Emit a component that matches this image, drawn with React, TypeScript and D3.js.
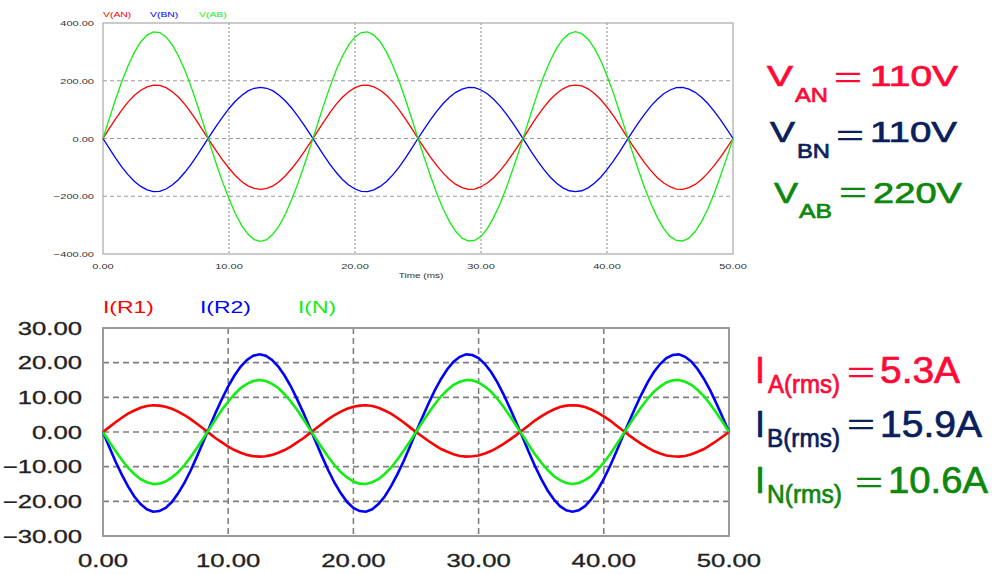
import React from 'react';
import * as d3 from 'd3';

// time axis (ms), sampled every 0.5 ms
const timeMs = [
  0, 0.5, 1, 1.5, 2, 2.5, 3, 3.5, 4, 4.5, 5, 5.5, 6, 6.5, 7, 7.5, 8, 8.5, 9, 9.5,
  10, 10.5, 11, 11.5, 12, 12.5, 13, 13.5, 14, 14.5, 15, 15.5, 16, 16.5, 17, 17.5, 18, 18.5, 19, 19.5,
  20, 20.5, 21, 21.5, 22, 22.5, 23, 23.5, 24, 24.5, 25, 25.5, 26, 26.5, 27, 27.5, 28, 28.5, 29, 29.5,
  30, 30.5, 31, 31.5, 32, 32.5, 33, 33.5, 34, 34.5, 35, 35.5, 36, 36.5, 37, 37.5, 38, 38.5, 39, 39.5,
  40, 40.5, 41, 41.5, 42, 42.5, 43, 43.5, 44, 44.5, 45, 45.5, 46, 46.5, 47, 47.5, 48, 48.5, 49, 49.5, 50,
];

// Top chart: voltages (V)
const vAN = [
  0, 35, 68, 99, 127, 150, 167, 179, 185, 184, 176, 162, 143, 118, 89, 57, 23, -11, -44, -75,
  -103, -128, -149, -164, -173, -176, -173, -164, -149, -128, -103, -75, -44, -11, 23, 57, 89, 118, 143, 162,
  176, 184, 185, 179, 167, 150, 127, 99, 68, 35, 0, -33, -65, -94, -120, -142, -159, -170, -176, -175,
  -167, -154, -136, -112, -85, -54, -22, 12, 46, 79, 109, 135, 156, 172, 182, 185, 182, 172, 156, 135,
  109, 79, 46, 12, -22, -54, -85, -112, -136, -154, -167, -175, -176, -170, -159, -142, -120, -94, -65, -33, 0,
];
const vBN = [
  0, -34, -68, -99, -126, -149, -166, -178, -184, -183, -175, -161, -142, -117, -89, -57, -23, 11, 44, 75,
  104, 129, 149, 165, 174, 177, 174, 165, 149, 129, 104, 75, 44, 11, -23, -57, -89, -117, -142, -161,
  -175, -183, -184, -178, -166, -149, -126, -99, -68, -34, 0, 33, 65, 95, 121, 143, 160, 171, 177, 176,
  168, 155, 136, 113, 85, 55, 22, -12, -46, -78, -108, -134, -155, -171, -181, -184, -181, -171, -155, -134,
  -108, -78, -46, -12, 22, 55, 85, 113, 136, 155, 168, 176, 177, 171, 160, 143, 121, 95, 65, 33, 0,
];
const vAB = [
  0, 69, 136, 198, 253, 299, 335, 358, 369, 367, 352, 324, 285, 236, 178, 114, 46, -22, -89, -152,
  -209, -260, -301, -331, -350, -356, -350, -331, -301, -260, -209, -152, -89, -22, 46, 114, 178, 236, 285, 324,
  352, 367, 369, 358, 335, 299, 253, 198, 136, 69, 0, -67, -131, -191, -244, -288, -322, -345, -355, -353,
  -339, -312, -274, -227, -172, -110, -45, 23, 92, 158, 217, 270, 312, 344, 363, 370, 363, 344, 312, 270,
  217, 158, 92, 23, -45, -110, -172, -227, -274, -312, -339, -353, -355, -345, -322, -288, -244, -191, -131, -67, 0,
];

// Bottom chart: currents (A)
const iR1 = [
  0, 1.4, 2.8, 4.1, 5.3, 6.2, 7.0, 7.5, 7.7, 7.6, 7.3, 6.7, 5.9, 4.9, 3.7, 2.4, 1.0, -0.4, -1.8, -3.0,
  -4.2, -5.2, -6.0, -6.6, -7.0, -7.1, -7.0, -6.6, -6.0, -5.2, -4.2, -3.0, -1.8, -0.4, 1.0, 2.4, 3.7, 4.9, 5.9, 6.7,
  7.3, 7.6, 7.7, 7.5, 7.0, 6.2, 5.3, 4.1, 2.8, 1.4, 0, -1.3, -2.6, -3.8, -4.9, -5.7, -6.4, -6.9, -7.1, -7.0,
  -6.8, -6.2, -5.5, -4.5, -3.4, -2.2, -0.9, 0.5, 1.9, 3.3, 4.5, 5.6, 6.5, 7.2, 7.6, 7.7, 7.6, 7.2, 6.5, 5.6,
  4.5, 3.3, 1.9, 0.5, -0.9, -2.2, -3.4, -4.5, -5.5, -6.2, -6.8, -7.0, -7.1, -6.9, -6.4, -5.7, -4.9, -3.8, -2.6, -1.3, 0,
];
const iR2 = [
  0, -4.3, -8.5, -12.3, -15.7, -18.6, -20.8, -22.3, -23.0, -22.8, -21.9, -20.2, -17.7, -14.7, -11.1, -7.1, -2.9, 1.4, 5.6, 9.5,
  13.2, 16.3, 18.9, 20.8, 22.0, 22.4, 22.0, 20.8, 18.9, 16.3, 13.2, 9.5, 5.6, 1.4, -2.9, -7.1, -11.1, -14.7, -17.7, -20.2,
  -21.9, -22.8, -23.0, -22.3, -20.8, -18.6, -15.7, -12.3, -8.5, -4.3, 0, 4.2, 8.2, 12.0, 15.3, 18.1, 20.3, 21.7, 22.4, 22.2,
  21.3, 19.6, 17.3, 14.3, 10.8, 6.9, 2.8, -1.4, -5.7, -9.8, -13.5, -16.8, -19.4, -21.4, -22.6, -23.0, -22.6, -21.4, -19.4, -16.8,
  -13.5, -9.8, -5.7, -1.4, 2.8, 6.9, 10.8, 14.3, 17.3, 19.6, 21.3, 22.2, 22.4, 21.7, 20.3, 18.1, 15.3, 12.0, 8.2, 4.2, 0,
];
const iN = [
  0, -2.8, -5.5, -8.0, -10.3, -12.1, -13.6, -14.5, -15.0, -14.9, -14.3, -13.1, -11.6, -9.6, -7.2, -4.6, -1.9, 0.9, 3.7, 6.4,
  8.8, 10.9, 12.7, 13.9, 14.7, 15.0, 14.7, 13.9, 12.7, 10.9, 8.8, 6.4, 3.7, 0.9, -1.9, -4.6, -7.2, -9.6, -11.6, -13.1,
  -14.3, -14.9, -15.0, -14.5, -13.6, -12.1, -10.3, -8.0, -5.5, -2.8, 0, 2.8, 5.5, 8.0, 10.3, 12.1, 13.6, 14.5, 15.0, 14.9,
  14.3, 13.1, 11.6, 9.6, 7.2, 4.6, 1.9, -0.9, -3.7, -6.4, -8.8, -10.9, -12.7, -13.9, -14.7, -15.0, -14.7, -13.9, -12.7, -10.9,
  -8.8, -6.4, -3.7, -0.9, 1.9, 4.6, 7.2, 9.6, 11.6, 13.1, 14.3, 14.9, 15.0, 14.5, 13.6, 12.1, 10.3, 8.0, 5.5, 2.8, 0,
];

const topYTicks = [400, 200, 0, -200, -400];
const topXTicks = [0, 10, 20, 30, 40, 50];
const botYTicks = [30, 20, 10, 0, -10, -20, -30];
const botXTicks = [0, 10, 20, 30, 40, 50];
const topLegend = ['V(AN)', 'V(BN)', 'V(AB)'];
const botLegend = ['I(R1)', 'I(R2)', 'I(N)'];

const RED = '#ff0000';
const BLUE = '#0000ff';
const GREEN = '#11ee11';
const FONT = '"Liberation Sans", Arial, sans-serif';
const fmt = d3.format('.2f');

type STProps = { x: number; y: number; sx?: number; size: number; fill: string; anchor?: string; sw?: number; children: any };
const ST = ({ x, y, sx = 1, size, fill, anchor = 'start', sw = 0, children }: STProps) => (
  <text transform={`translate(${x},${y}) scale(${sx},1)`} fontSize={size} fill={fill} textAnchor={anchor as any} fontFamily={FONT}
    stroke={sw ? fill : 'none'} strokeWidth={sw}>
    {children}
  </text>
);

type LT = { x: number; y: number; w?: number; size: number; fill: string; text: string };
const LenText = ({ x, y, w, size, fill, text }: LT) => (
  <text x={x} y={y} fontSize={size} fill={fill} fontFamily={FONT} textLength={w} lengthAdjust="spacingAndGlyphs"
    stroke={fill} strokeWidth={0.7}>
    {text}
  </text>
);

const Eq = ({ cx, cy, fill }: { cx: number; cy: number; fill: string }) => (
  <text x={cx} y={cy + 12} fontSize={33} fill={fill} textAnchor="middle" fontFamily='"Noto Sans CJK SC", sans-serif'>＝</text>
);

export default function App() {
  const tx = d3.scaleLinear().domain([0, 50]).range([103, 733]);
  const ty = d3.scaleLinear().domain([-400, 400]).range([254, 23]);
  const bx = d3.scaleLinear().domain([0, 50]).range([103, 729]);
  const by = d3.scaleLinear().domain([-30, 30]).range([536, 328]);

  const mk = (xs: d3.ScaleLinear<number, number>, ys: d3.ScaleLinear<number, number>, vals: number[]) =>
    d3.line<number>().x((_, i) => xs(timeMs[i])).y((d) => ys(d))(vals) || '';

  const topSeries = [vAN, vBN, vAB];
  const botSeries = [iR1, iR2, iN];
  const cols = [RED, BLUE, GREEN];

  const RRED = '#ff0a36';
  const NAVY = '#0b1f5c';
  const RGRN = '#0f870f';

  return (
    <div style={{ position: 'absolute', left: 0, top: 0 }}>
      <svg width={995} height={574} style={{ display: 'block', background: '#fff' }}>
        {/* ---------- Top chart ---------- */}
        <g>
          {topYTicks.filter((v) => v !== 400 && v !== -400).map((v) => (
            <line key={'tyg' + v} x1={tx(0)} x2={tx(50)} y1={ty(v)} y2={ty(v)} stroke="#9a9a9a" strokeWidth={1} strokeDasharray="4,3" />
          ))}
          {topXTicks.filter((v) => v !== 0 && v !== 50).map((v) => (
            <line key={'txg' + v} x1={tx(v)} x2={tx(v)} y1={ty(400)} y2={ty(-400)} stroke="#8a8a8a" strokeWidth={1} strokeDasharray="2,2" />
          ))}
          <rect x={tx(0)} y={ty(400)} width={tx(50) - tx(0)} height={ty(-400) - ty(400)} fill="none" stroke="#a8a8a8" strokeWidth={1.2} />
          {topSeries.map((s, i) => (
            <path key={'ts' + i} d={mk(tx, ty, s)} fill="none" stroke={cols[i]} strokeWidth={1.3} />
          ))}
          {topYTicks.map((v) => (
            <ST key={'tyl' + v} x={94} y={ty(v) + 3} sx={1.38} size={8} fill="#333" anchor="end">{fmt(v)}</ST>
          ))}
          {topXTicks.map((v) => (
            <ST key={'txl' + v} x={tx(v)} y={269} sx={1.38} size={8} fill="#333" anchor="middle">{fmt(v)}</ST>
          ))}
          <ST x={421} y={278} sx={1.25} size={8} fill="#333" anchor="middle">Time (ms)</ST>
          {topLegend.map((t, i) => (
            <ST key={'tl' + i} x={[103, 150, 199][i]} y={17} sx={1.3} size={8} fill={cols[i]}>{t}</ST>
          ))}
        </g>

        {/* ---------- Bottom chart ---------- */}
        <g>
          {botYTicks.filter((v) => v !== 30 && v !== -30).map((v) => (
            <line key={'byg' + v} x1={bx(0)} x2={bx(50)} y1={by(v)} y2={by(v)} stroke="#808080" strokeWidth={1.6} strokeDasharray="6,4" />
          ))}
          {botXTicks.filter((v) => v !== 0 && v !== 50).map((v) => (
            <line key={'bxg' + v} x1={bx(v)} x2={bx(v)} y1={by(30)} y2={by(-30)} stroke="#808080" strokeWidth={1.6} strokeDasharray="6,4" />
          ))}
          <rect x={bx(0)} y={by(30)} width={bx(50) - bx(0)} height={by(-30) - by(30)} fill="none" stroke="#9a9a9a" strokeWidth={2} />
          {botSeries.map((s, i) => (
            <path key={'bs' + i} d={mk(bx, by, s)} fill="none" stroke={cols[i]} strokeWidth={2.6} />
          ))}
          {botYTicks.map((v) => (
            <ST key={'byl' + v} x={82} y={by(v) + 6.5} sx={1.43} size={18} fill="#222" anchor="end" sw={0.3}>{fmt(v)}</ST>
          ))}
          {botXTicks.map((v) => (
            <ST key={'bxl' + v} x={bx(v)} y={567} sx={1.43} size={18} fill="#222" anchor="middle" sw={0.3}>{fmt(v)}</ST>
          ))}
          {botLegend.map((t, i) => (
            <ST key={'bl' + i} x={[103, 200, 298][i]} y={313} sx={1.35} size={17} fill={cols[i]}>{t}</ST>
          ))}
        </g>

        {/* ---------- Right annotations: voltages ---------- */}
        <g>
          <LenText x={767} y={86} w={26} size={30} fill={RRED} text="V" />
          <LenText x={795} y={102} w={33} size={20} fill={RRED} text="AN" />
          <Eq cx={848} cy={78} fill={RRED} />
          <LenText x={870} y={86} w={88} size={30} fill={RRED} text="110V" />

          <LenText x={770} y={142} w={25} size={30} fill={NAVY} text="V" />
          <LenText x={797} y={158} w={33} size={20} fill={NAVY} text="BN" />
          <Eq cx={850} cy={136} fill={NAVY} />
          <LenText x={870} y={142} w={87} size={30} fill={NAVY} text="110V" />

          <LenText x={774} y={203} w={24} size={30} fill={RGRN} text="V" />
          <LenText x={799} y={218} w={33} size={20} fill={RGRN} text="AB" />
          <Eq cx={853} cy={193} fill={RGRN} />
          <LenText x={873} y={203} w={89} size={30} fill={RGRN} text="220V" />
        </g>

        {/* ---------- Right annotations: currents ---------- */}
        <g>
          <text x={755} y={383} fontSize={36} fill={RRED} fontFamily={FONT} stroke={RRED} strokeWidth={0.7}>I</text>
          <LenText x={768} y={393} w={72} size={25} fill={RRED} text="A(rms)" />
          <Eq cx={861} cy={373} fill={RRED} />
          <LenText x={880} y={383} w={80} size={36} fill={RRED} text="5.3A" />

          <text x={755} y={437} fontSize={36} fill={NAVY} fontFamily={FONT} stroke={NAVY} strokeWidth={0.7}>I</text>
          <LenText x={767} y={447} w={73} size={25} fill={NAVY} text="B(rms)" />
          <Eq cx={861} cy={425} fill={NAVY} />
          <LenText x={880} y={437} w={102} size={36} fill={NAVY} text="15.9A" />

          <text x={755} y={493} fontSize={36} fill={RGRN} fontFamily={FONT} stroke={RGRN} strokeWidth={0.7}>I</text>
          <LenText x={767} y={503} w={75} size={25} fill={RGRN} text="N(rms)" />
          <Eq cx={869} cy={483} fill={RGRN} />
          <LenText x={888} y={493} w={100} size={36} fill={RGRN} text="10.6A" />
        </g>
      </svg>
    </div>
  );
}
